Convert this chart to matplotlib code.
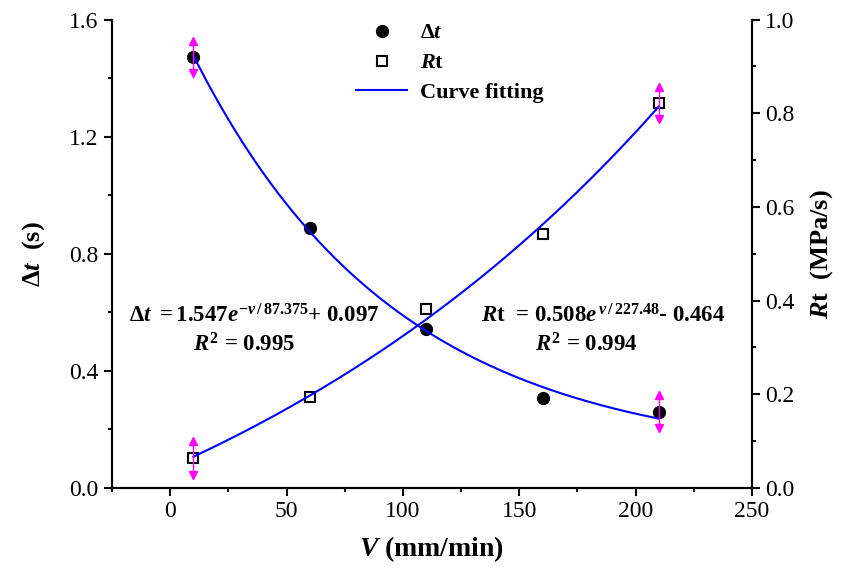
import numpy as np
import matplotlib
matplotlib.use('Agg')
import matplotlib.pyplot as plt
from matplotlib.ticker import MultipleLocator, FormatStrFormatter

plt.rcParams['font.family'] = ['Liberation Serif', 'DejaVu Serif']
plt.rcParams['mathtext.fontset'] = 'custom'
plt.rcParams['mathtext.rm'] = 'Liberation Serif:bold'
plt.rcParams['mathtext.it'] = 'Liberation Serif:italic:bold'
plt.rcParams['mathtext.bf'] = 'Liberation Serif:bold'

# measured data
speed = [10, 60, 110, 160, 210]
delta_t = [1.472, 0.888, 0.543, 0.307, 0.260]
rt = [0.064, 0.194, 0.382, 0.542, 0.822]

# error bars only at first and last speed
err_speed = [10, 210]
dt_err_mid = [1.472, 0.260]
dt_err = [0.07, 0.07]
rt_err_mid = [0.064, 0.822]
rt_err = [0.045, 0.043]

# fit parameters printed on the chart: a*exp(+-v/b) + c
dt_fit = [1.547, 87.375, 0.097]
rt_fit = [0.508, 227.48, -0.464]

blue = '#0000ff'
magenta = '#ff00ff'

fig = plt.figure(figsize=(8.45, 5.75), dpi=100)
ax = fig.add_axes([0.1325, 0.1513, 0.7575, 0.8147])
ax2 = ax.twinx()

v = np.linspace(speed[0], speed[-1], 200)
dt_curve = dt_fit[0] * np.exp(-v / dt_fit[1]) + dt_fit[2]
rt_curve = rt_fit[0] * np.exp(v / rt_fit[1]) + rt_fit[2]

h1, = ax.plot(speed, delta_t, 'o', color='black', ms=8.5, zorder=3)
h3, = ax.plot(v, dt_curve, '-', color=blue, lw=1.5, zorder=4)
h2, = ax2.plot(speed, rt, 's', mfc='white', mec='black', mew=1.5, ms=7.5,
               zorder=3)
ax2.plot(v, rt_curve, '-', color=blue, lw=1.5, zorder=4)

# magenta double-arrow error bars
for a, mid, err in [(ax, dt_err_mid, dt_err), (ax2, rt_err_mid, rt_err)]:
    mid = np.array(mid)
    err = np.array(err)
    a.errorbar(err_speed, mid, yerr=err, fmt='none', ecolor=magenta,
               elinewidth=1, capsize=0, zorder=5)
    a.plot(err_speed, mid + err * 0.8, '^', color=magenta, ms=6, zorder=5)
    a.plot(err_speed, mid - err * 0.8, 'v', color=magenta, ms=6, zorder=5)

ax.set_xlim(-25, 250)
ax.set_ylim(0, 1.6)
ax2.set_ylim(0, 1.0)

ax.set_xticks([0, 50, 100, 150, 200, 250])
ax.xaxis.set_minor_locator(MultipleLocator(25))
ax.yaxis.set_major_locator(MultipleLocator(0.4))
ax.yaxis.set_minor_locator(MultipleLocator(0.2))
ax.yaxis.set_major_formatter(FormatStrFormatter('%.1f'))
ax2.yaxis.set_major_locator(MultipleLocator(0.2))
ax2.yaxis.set_minor_locator(MultipleLocator(0.1))
ax2.yaxis.set_major_formatter(FormatStrFormatter('%.1f'))

for a in (ax, ax2):
    a.spines['top'].set_visible(False)
    for s in a.spines.values():
        s.set_linewidth(1.5)
    a.tick_params(which='major', direction='out', length=6, width=1.5,
                  labelsize=17)
    a.tick_params(which='minor', direction='out', length=3, width=1.5)

ax.set_xlabel(r'$V$ (mm/min)', fontsize=20, fontweight='bold', labelpad=9)
ax.set_ylabel(r'$\Delta t$  (s)', fontsize=19, fontweight='bold', labelpad=16)
ax2.set_ylabel(r'$R$t  (MPa/s)', fontsize=19, fontweight='bold', labelpad=10)

ax.text(36, 0.587, r'$\Delta t\ = 1.547e^{-v\,/\,87.375}$+ 0.097',
        fontsize=16.5, fontweight='bold', ha='center', va='center')
ax.text(32, 0.49, r'$R^2$ = 0.995', fontsize=16.5, fontweight='bold',
        ha='center', va='center')
ax.text(186, 0.587, r'$R$t  = 0.508$e^{\,v\,/\,227.48}$- 0.464',
        fontsize=16.5, fontweight='bold', ha='center', va='center')
ax.text(179, 0.49, r'$R^2$ = 0.994', fontsize=16.5, fontweight='bold',
        ha='center', va='center')

ax.legend([h1, h2, h3], [r'$\Delta t$', r'$R$t', 'Curve fitting'],
          loc='upper left', bbox_to_anchor=(0.398, 0.995),
          bbox_transform=fig.transFigure, frameon=False,
          prop={'size': 16, 'weight': 'bold'}, handlelength=2.3,
          labelspacing=0.42, handletextpad=0.55)

fig.savefig('out.png', dpi=100)
